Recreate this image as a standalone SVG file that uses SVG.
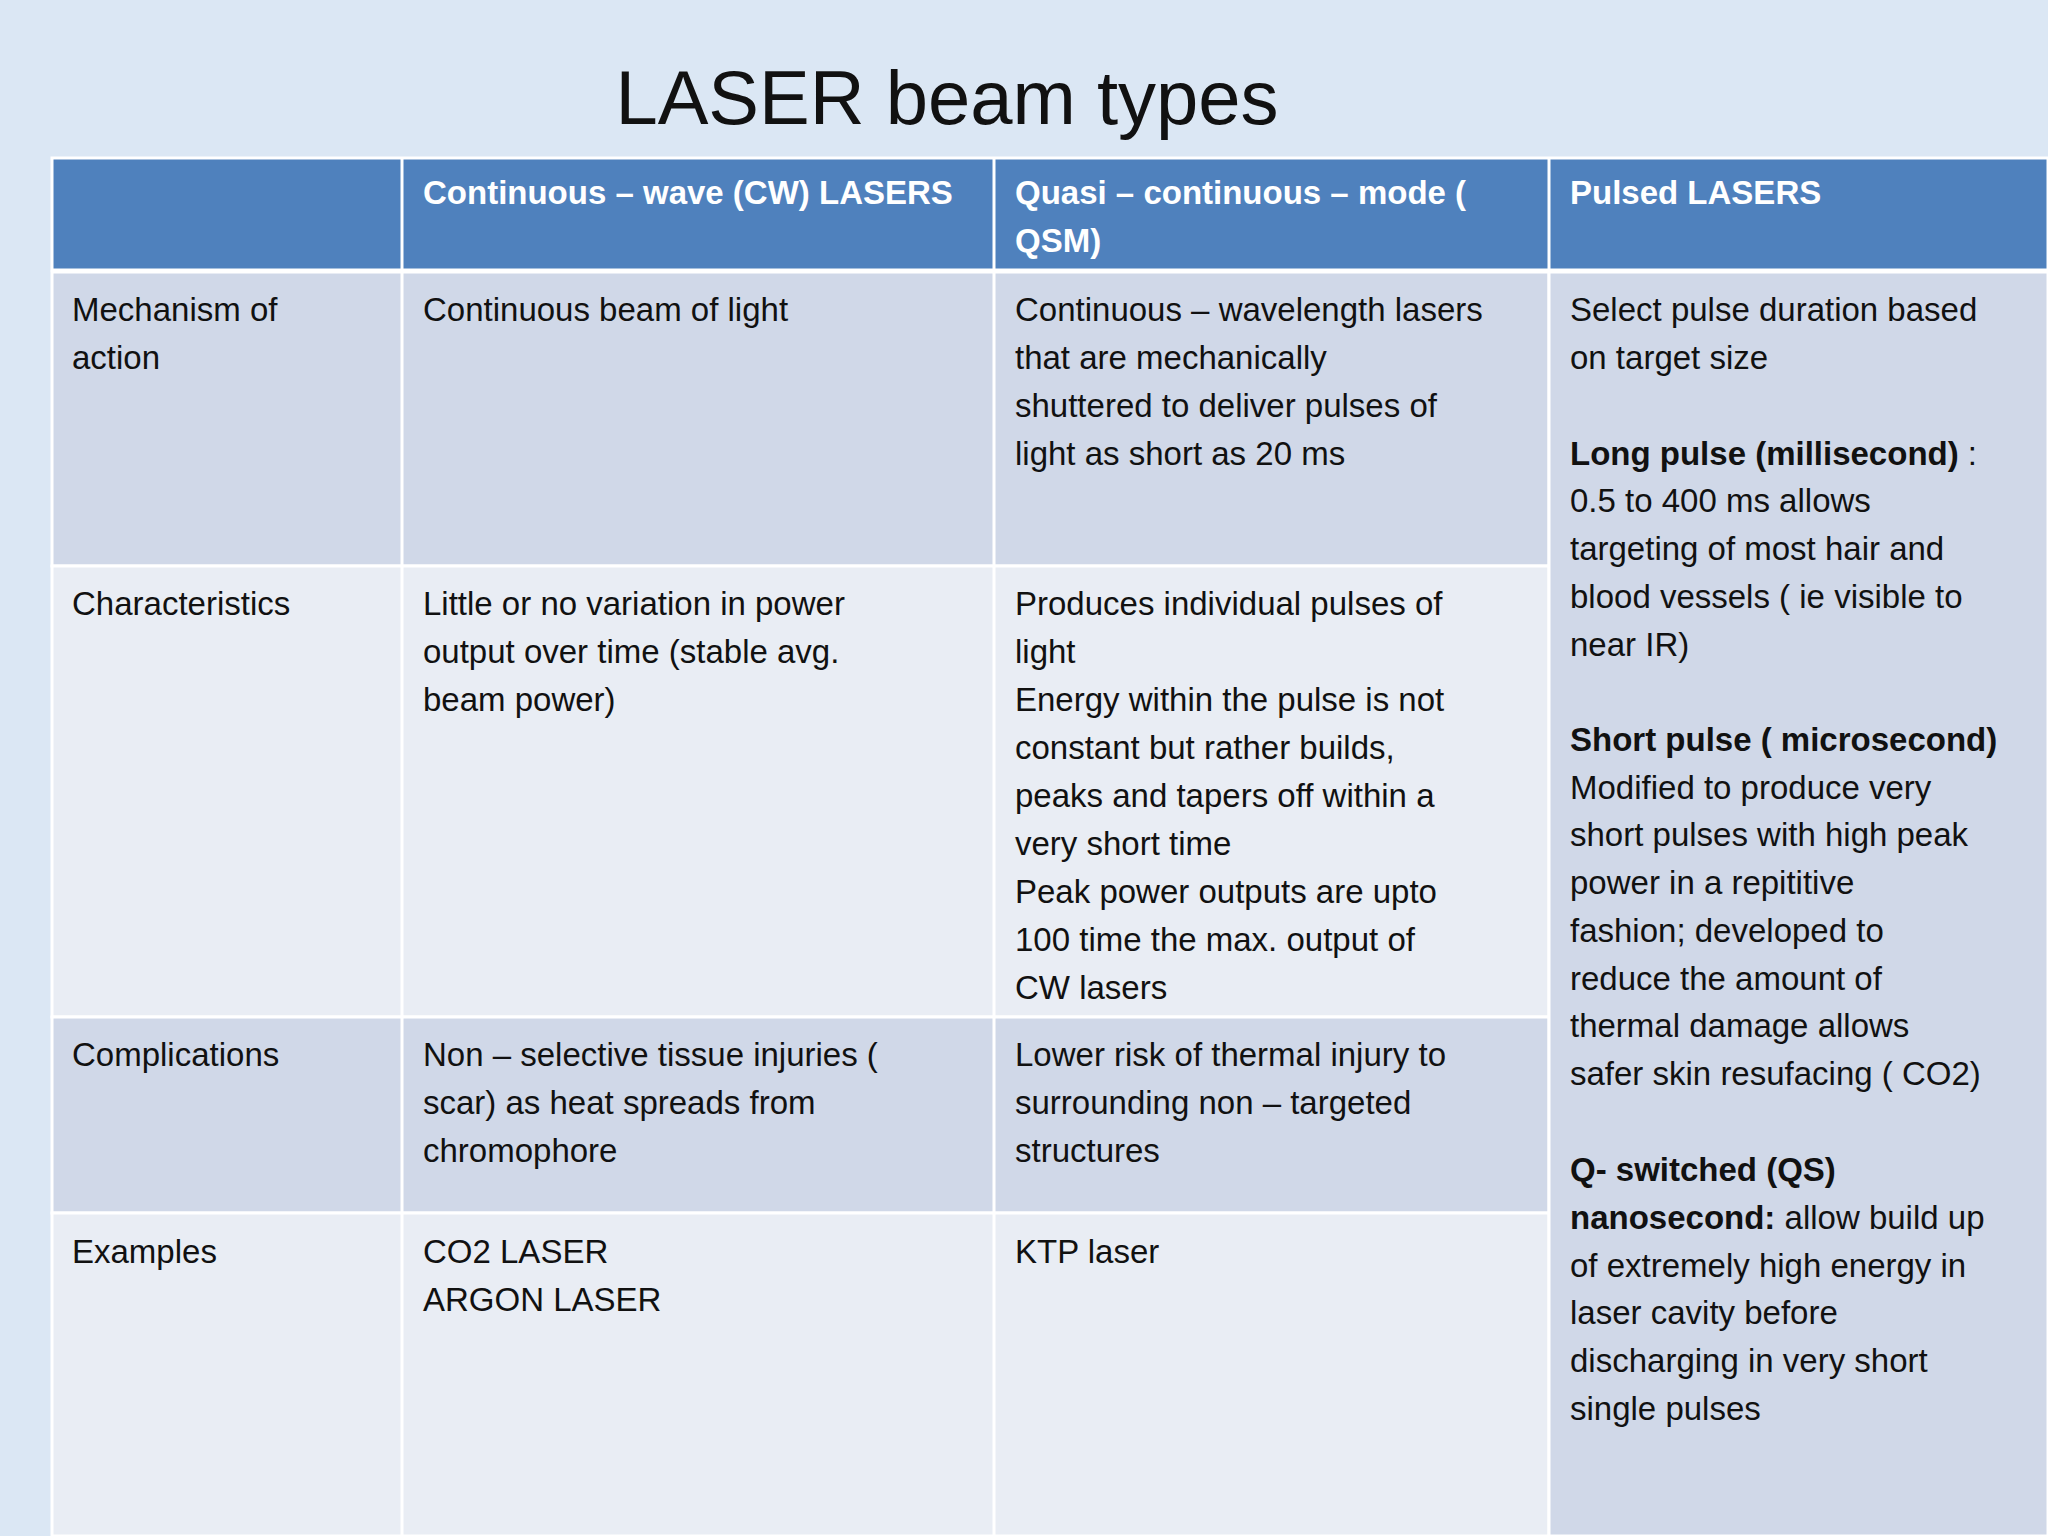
<svg xmlns="http://www.w3.org/2000/svg" width="2048" height="1536" viewBox="0 0 2048 1536">
<style>
.t{font-family:"Liberation Sans",Arial,sans-serif;font-size:33px;fill:#111}
.h{font-family:"Liberation Sans",Arial,sans-serif;font-size:33px;font-weight:bold;fill:#fff}
.b{font-weight:bold}
.c{stroke:#fff;stroke-width:3}
</style>
<rect width="2048" height="1536" fill="#dbe7f4"/>
<text x="947" y="124" text-anchor="middle" font-family="Liberation Sans,Arial,sans-serif" font-size="76" fill="#111">LASER beam types</text>
<g id="header">
<rect class="c" x="52" y="158" width="1996" height="112" fill="#4f81bd"/>
<line class="c" x1="402" y1="158" x2="402" y2="270"/><line class="c" x1="994" y1="158" x2="994" y2="270"/><line class="c" x1="1549" y1="158" x2="1549" y2="270"/>
<text class="h" x="423" y="204">Continuous – wave (CW) LASERS</text>
<text class="h" x="1015" y="204">Quasi – continuous – mode (</text>
<text class="h" x="1015" y="252">QSM)</text>
<text class="h" x="1570" y="204">Pulsed LASERS</text>
</g>
<g id="rows">
<rect class="c" x="52" y="272" width="1497" height="294" fill="#d0d8e8"/>
<rect class="c" x="52" y="566" width="1497" height="451" fill="#e9edf4"/>
<rect class="c" x="52" y="1017" width="1497" height="196" fill="#d0d8e8"/>
<rect class="c" x="52" y="1213" width="1497" height="323" fill="#e9edf4"/>
<rect class="c" x="1549" y="272" width="499" height="1264" fill="#d0d8e8"/>
<line class="c" x1="402" y1="272" x2="402" y2="1536"/><line class="c" x1="994" y1="272" x2="994" y2="1536"/>
</g>
<g id="col0" class="t">
<text class="t" x="72" y="321">Mechanism of</text><text class="t" x="72" y="369">action</text>
<text class="t" x="72" y="615">Characteristics</text>
<text class="t" x="72" y="1066">Complications</text>
<text class="t" x="72" y="1263">Examples</text>
</g>
<g id="col1">
<text class="t" x="423" y="321">Continuous beam of light</text>
<text class="t" x="423" y="615">Little or no variation in power</text>
<text class="t" x="423" y="663">output over time (stable avg.</text>
<text class="t" x="423" y="711">beam power)</text>
<text class="t" x="423" y="1066">Non – selective tissue injuries (</text>
<text class="t" x="423" y="1114">scar) as heat spreads from</text>
<text class="t" x="423" y="1162">chromophore</text>
<text class="t" x="423" y="1263">CO2 LASER</text>
<text class="t" x="423" y="1311">ARGON LASER</text>
</g>
<g id="col2">
<text class="t" x="1015" y="321">Continuous – wavelength lasers</text>
<text class="t" x="1015" y="369">that are mechanically</text>
<text class="t" x="1015" y="417">shuttered to deliver pulses of</text>
<text class="t" x="1015" y="465">light as short as 20 ms</text>
<text class="t" x="1015" y="615">Produces individual pulses of</text>
<text class="t" x="1015" y="663">light</text>
<text class="t" x="1015" y="711">Energy within the pulse is not</text>
<text class="t" x="1015" y="759">constant but rather builds,</text>
<text class="t" x="1015" y="807">peaks and tapers off within a</text>
<text class="t" x="1015" y="855">very short time</text>
<text class="t" x="1015" y="903">Peak power outputs are upto</text>
<text class="t" x="1015" y="951">100 time the max. output of</text>
<text class="t" x="1015" y="999">CW lasers</text>
<text class="t" x="1015" y="1066">Lower risk of thermal injury to</text>
<text class="t" x="1015" y="1114">surrounding non – targeted</text>
<text class="t" x="1015" y="1162">structures</text>
<text class="t" x="1015" y="1263">KTP laser</text>
</g>
<g id="col3">
<text class="t" x="1570" y="321">Select pulse duration based</text>
<text class="t" x="1570" y="369">on target size</text>
<text class="t" x="1570" y="465"><tspan class="b">Long pulse (millisecond)</tspan> :</text>
<text class="t" x="1570" y="512">0.5 to 400 ms allows</text>
<text class="t" x="1570" y="560">targeting of most hair and</text>
<text class="t" x="1570" y="608">blood vessels ( ie visible to</text>
<text class="t" x="1570" y="656">near IR)</text>
<text class="t b" x="1570" y="751">Short pulse ( microsecond)</text>
<text class="t" x="1570" y="799">Modified to produce very</text>
<text class="t" x="1570" y="846">short pulses with high peak</text>
<text class="t" x="1570" y="894">power in a  repititive</text>
<text class="t" x="1570" y="942">fashion; developed to</text>
<text class="t" x="1570" y="990">reduce the amount of</text>
<text class="t" x="1570" y="1037">thermal damage allows</text>
<text class="t" x="1570" y="1085">safer skin resufacing ( CO2)</text>
<text class="t b" x="1570" y="1181">Q- switched (QS)</text>
<text class="t" x="1570" y="1229"><tspan class="b">nanosecond:</tspan> allow build up</text>
<text class="t" x="1570" y="1277">of extremely high energy in</text>
<text class="t" x="1570" y="1324">laser cavity before</text>
<text class="t" x="1570" y="1372">discharging in very short</text>
<text class="t" x="1570" y="1420">single pulses</text>
</g>
</svg>
